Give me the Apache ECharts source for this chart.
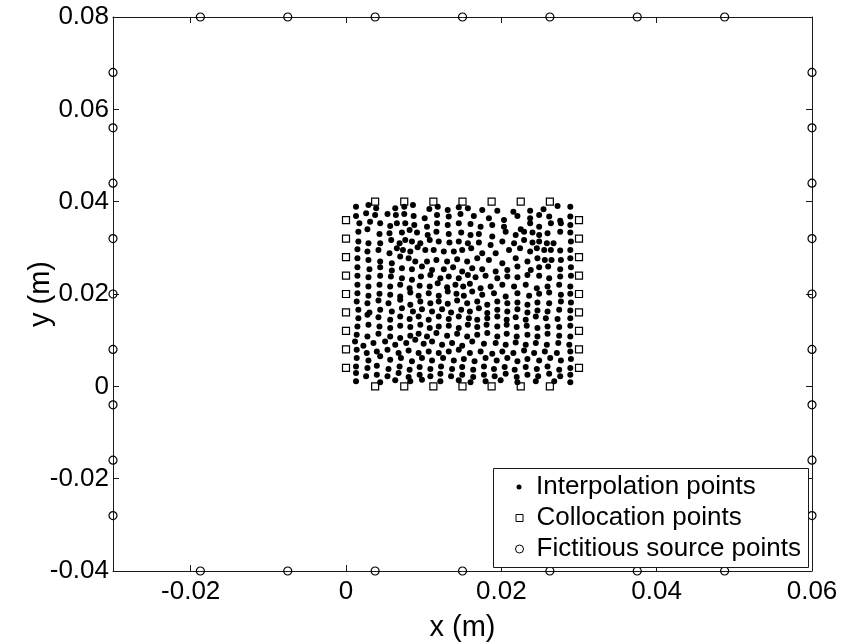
<!DOCTYPE html>
<html>
<head>
<meta charset="utf-8">
<style>
html,body{margin:0;padding:0;background:#fff;}
#chart{width:842px;height:643px;}
</style>
<script src="https://cdn.jsdelivr.net/npm/echarts@6/dist/echarts.min.js"></script>
</head>
<body>
<div id="chart"></div>
<script>
// ---- data (metres) ----
var xTicks = [-0.02, 0, 0.02, 0.04, 0.06];
var yTicks = [-0.04, -0.02, 0, 0.02, 0.04, 0.06, 0.08];

var sourceRowX = [-0.01875, -0.0075, 0.00375, 0.015, 0.02625, 0.0375, 0.04875];
var sourceColY = [-0.028, -0.016, -0.004, 0.008, 0.02, 0.032, 0.044, 0.056, 0.068];
var sourceBottomY = -0.04, sourceTopY = 0.08, sourceLeftX = -0.03, sourceRightX = 0.06;

var collocRowX = [0.00375, 0.0075, 0.01125, 0.015, 0.01875, 0.0225, 0.02625];
var collocColY = [0.004, 0.008, 0.012, 0.016, 0.02, 0.024, 0.028, 0.032, 0.036];
var collocBottomY = 0, collocTopY = 0.04, collocLeftX = 0, collocRightX = 0.03;

var interpPoints = [
[0.00129,0.03892],[0.00289,0.03928],[0.00388,0.03856],[0.00634,0.03856],[0.00750,0.03892],[0.00862,0.03928],[0.01073,0.03841],[0.01181,0.03892],[0.01310,0.03820],[0.01452,0.03877],[0.01569,0.03856],[0.01754,0.03820],[0.01948,0.03805],[0.02155,0.03784],[0.02371,0.03805],[0.02543,0.03834],[0.02724,0.03906],[0.02888,0.03892],
[0.00129,0.03690],[0.00259,0.03748],[0.00375,0.03712],[0.00534,0.03733],[0.00642,0.03712],[0.00750,0.03733],[0.00871,0.03690],[0.01013,0.03640],[0.01172,0.03712],[0.01323,0.03676],[0.01474,0.03733],[0.01646,0.03690],[0.01840,0.03640],[0.02034,0.03604],[0.02207,0.03690],[0.02371,0.03640],[0.02487,0.03712],[0.02616,0.03676],[0.02758,0.03589],[0.02888,0.03676],
[0.00172,0.03531],[0.00310,0.03567],[0.00440,0.03531],[0.00569,0.03474],[0.00655,0.03531],[0.00763,0.03531],[0.00879,0.03495],[0.01043,0.03459],[0.01172,0.03531],[0.01310,0.03495],[0.01452,0.03531],[0.01603,0.03517],[0.01733,0.03459],[0.01883,0.03495],[0.02034,0.03459],[0.02250,0.03402],[0.02371,0.03531],[0.02487,0.03459],[0.02638,0.03531],[0.02767,0.03531],[0.02888,0.03495],
[0.00159,0.03351],[0.00276,0.03402],[0.00431,0.03301],[0.00560,0.03316],[0.00720,0.03330],[0.00819,0.03387],[0.00914,0.03330],[0.01052,0.03279],[0.01164,0.03351],[0.01323,0.03301],[0.01483,0.03330],[0.01603,0.03279],[0.01711,0.03301],[0.01883,0.03243],[0.02056,0.03351],[0.02185,0.03279],[0.02293,0.03351],[0.02401,0.03330],[0.02487,0.03279],[0.02595,0.03316],[0.02758,0.03351],[0.02888,0.03330],
[0.00159,0.03135],[0.00289,0.03099],[0.00440,0.03099],[0.00582,0.03171],[0.00690,0.03099],[0.00763,0.03171],[0.00849,0.03135],[0.00957,0.03099],[0.01078,0.03171],[0.01194,0.03135],[0.01332,0.03113],[0.01452,0.03135],[0.01569,0.03099],[0.01711,0.03113],[0.01862,0.03063],[0.02013,0.03135],[0.02164,0.03099],[0.02293,0.03171],[0.02401,0.03113],[0.02487,0.03135],[0.02586,0.03099],[0.02672,0.03099],[0.02896,0.03135],
[0.00147,0.02969],[0.00276,0.02919],[0.00418,0.02955],[0.00560,0.02883],[0.00655,0.02991],[0.00733,0.02955],[0.00828,0.02919],[0.00922,0.03013],[0.01021,0.02955],[0.01129,0.02955],[0.01259,0.02919],[0.01388,0.02919],[0.01496,0.02955],[0.01612,0.02991],[0.01754,0.02883],[0.01927,0.02883],[0.02099,0.02955],[0.02241,0.02991],[0.02371,0.02919],[0.02457,0.02991],[0.02552,0.02955],[0.02638,0.02955],[0.02758,0.02940],[0.02888,0.02955],
[0.00147,0.02775],[0.00289,0.02739],[0.00440,0.02703],[0.00590,0.02667],[0.00698,0.02811],[0.00806,0.02775],[0.00892,0.02703],[0.01043,0.02703],[0.01164,0.02739],[0.01302,0.02703],[0.01431,0.02753],[0.01560,0.02703],[0.01690,0.02775],[0.01840,0.02739],[0.02013,0.02667],[0.02185,0.02775],[0.02336,0.02703],[0.02465,0.02775],[0.02560,0.02739],[0.02646,0.02739],[0.02767,0.02739],[0.02888,0.02775],
[0.00147,0.02580],[0.00302,0.02537],[0.00440,0.02580],[0.00590,0.02508],[0.00720,0.02559],[0.00849,0.02537],[0.00978,0.02595],[0.01108,0.02522],[0.01259,0.02537],[0.01379,0.02580],[0.01496,0.02486],[0.01625,0.02559],[0.01754,0.02537],[0.01927,0.02486],[0.02077,0.02522],[0.02207,0.02595],[0.02379,0.02522],[0.02487,0.02580],[0.02603,0.02595],[0.02758,0.02537],[0.02896,0.02580],
[0.00147,0.02393],[0.00289,0.02364],[0.00440,0.02393],[0.00578,0.02378],[0.00720,0.02342],[0.00849,0.02306],[0.00965,0.02378],[0.01086,0.02414],[0.01215,0.02342],[0.01323,0.02378],[0.01452,0.02342],[0.01569,0.02414],[0.01668,0.02364],[0.01797,0.02393],[0.01948,0.02342],[0.02077,0.02378],[0.02207,0.02364],[0.02336,0.02414],[0.02487,0.02393],[0.02616,0.02342],[0.02758,0.02378],[0.02896,0.02393],
[0.00147,0.02198],[0.00289,0.02162],[0.00431,0.02198],[0.00569,0.02162],[0.00698,0.02198],[0.00819,0.02126],[0.00948,0.02177],[0.01078,0.02162],[0.01181,0.02234],[0.01302,0.02148],[0.01409,0.02198],[0.01509,0.02162],[0.01595,0.02220],[0.01733,0.02126],[0.01862,0.02162],[0.02013,0.02198],[0.02164,0.02162],[0.02314,0.02198],[0.02457,0.02126],[0.02595,0.02162],[0.02745,0.02198],[0.02888,0.02162],
[0.00147,0.02018],[0.00289,0.01960],[0.00431,0.02004],[0.00569,0.01982],[0.00698,0.01946],[0.00828,0.02032],[0.00935,0.01960],[0.01065,0.02018],[0.01194,0.01960],[0.01310,0.02054],[0.01422,0.02004],[0.01517,0.01960],[0.01625,0.02054],[0.01754,0.01982],[0.01905,0.02018],[0.02056,0.01946],[0.02207,0.02018],[0.02358,0.01960],[0.02487,0.02004],[0.02616,0.02032],[0.02767,0.01982],[0.02888,0.02004],
[0.00138,0.01838],[0.00276,0.01802],[0.00418,0.01859],[0.00547,0.01802],[0.00698,0.01874],[0.00828,0.01766],[0.00957,0.01838],[0.01086,0.01802],[0.01194,0.01838],[0.01310,0.01787],[0.01431,0.01859],[0.01560,0.01802],[0.01690,0.01838],[0.01819,0.01766],[0.01948,0.01838],[0.02077,0.01802],[0.02207,0.01816],[0.02336,0.01766],[0.02465,0.01816],[0.02616,0.01802],[0.02767,0.01838],[0.02896,0.01816],
[0.00159,0.01658],[0.00302,0.01600],[0.00440,0.01658],[0.00590,0.01622],[0.00720,0.01694],[0.00862,0.01622],[0.00978,0.01672],[0.01108,0.01622],[0.01237,0.01672],[0.01353,0.01600],[0.01483,0.01658],[0.01595,0.01622],[0.01711,0.01694],[0.01819,0.01586],[0.01948,0.01658],[0.02077,0.01622],[0.02207,0.01672],[0.02336,0.01600],[0.02465,0.01643],[0.02595,0.01622],[0.02745,0.01658],[0.02888,0.01643],
[0.00159,0.01477],[0.00276,0.01550],[0.00418,0.01499],[0.00569,0.01441],[0.00698,0.01513],[0.00819,0.01456],[0.00935,0.01513],[0.01065,0.01441],[0.01194,0.01513],[0.01323,0.01456],[0.01452,0.01513],[0.01582,0.01477],[0.01690,0.01441],[0.01819,0.01477],[0.01948,0.01513],[0.02069,0.01441],[0.02185,0.01499],[0.02314,0.01441],[0.02444,0.01513],[0.02573,0.01477],[0.02724,0.01456],[0.02888,0.01477],
[0.00147,0.01297],[0.00289,0.01333],[0.00431,0.01297],[0.00569,0.01261],[0.00698,0.01312],[0.00828,0.01283],[0.00957,0.01333],[0.01078,0.01261],[0.01194,0.01297],[0.01323,0.01312],[0.01452,0.01261],[0.01569,0.01333],[0.01690,0.01283],[0.01810,0.01333],[0.01948,0.01297],[0.02069,0.01333],[0.02198,0.01283],[0.02327,0.01312],[0.02465,0.01261],[0.02595,0.01297],[0.02745,0.01283],[0.02888,0.01312],
[0.00138,0.01117],[0.00276,0.01081],[0.00418,0.01139],[0.00569,0.01081],[0.00698,0.01045],[0.00828,0.01095],[0.00935,0.01139],[0.01043,0.01081],[0.01164,0.01153],[0.01302,0.01095],[0.01431,0.01139],[0.01560,0.01081],[0.01690,0.01117],[0.01819,0.01153],[0.01948,0.01081],[0.02069,0.01139],[0.02198,0.01081],[0.02336,0.01117],[0.02465,0.01081],[0.02595,0.01139],[0.02745,0.01095],[0.02888,0.01081],
[0.00116,0.00973],[0.00224,0.00879],[0.00353,0.00937],[0.00504,0.00973],[0.00634,0.00901],[0.00776,0.00937],[0.00892,0.01009],[0.01000,0.00923],[0.01108,0.00973],[0.01237,0.00901],[0.01366,0.00937],[0.01496,0.00879],[0.01625,0.00973],[0.01776,0.00923],[0.01927,0.00937],[0.02056,0.00901],[0.02185,0.00951],[0.02314,0.00901],[0.02444,0.00937],[0.02586,0.00901],[0.02733,0.00937],[0.02875,0.00901],
[0.00138,0.00793],[0.00267,0.00721],[0.00397,0.00757],[0.00534,0.00793],[0.00677,0.00721],[0.00806,0.00778],[0.00935,0.00721],[0.01065,0.00757],[0.01194,0.00721],[0.01323,0.00757],[0.01452,0.00793],[0.01595,0.00721],[0.01733,0.00757],[0.01883,0.00706],[0.02013,0.00757],[0.02155,0.00721],[0.02293,0.00778],[0.02422,0.00721],[0.02560,0.00757],[0.02715,0.00721],[0.02888,0.00757],
[0.00138,0.00613],[0.00289,0.00562],[0.00440,0.00649],[0.00569,0.00577],[0.00707,0.00613],[0.00849,0.00541],[0.00978,0.00613],[0.01108,0.00562],[0.01250,0.00613],[0.01388,0.00562],[0.01517,0.00591],[0.01655,0.00541],[0.01797,0.00613],[0.01940,0.00562],[0.02077,0.00613],[0.02207,0.00541],[0.02336,0.00591],[0.02487,0.00562],[0.02629,0.00613],[0.02767,0.00562],[0.02896,0.00591],
[0.00129,0.00432],[0.00276,0.00396],[0.00397,0.00447],[0.00547,0.00375],[0.00690,0.00432],[0.00819,0.00360],[0.00948,0.00418],[0.01086,0.00375],[0.01224,0.00432],[0.01366,0.00375],[0.01496,0.00418],[0.01638,0.00360],[0.01776,0.00432],[0.01905,0.00375],[0.02043,0.00418],[0.02172,0.00360],[0.02314,0.00418],[0.02457,0.00375],[0.02595,0.00432],[0.02745,0.00360],[0.02888,0.00396],
[0.00129,0.00288],[0.00259,0.00216],[0.00397,0.00252],[0.00534,0.00216],[0.00677,0.00288],[0.00806,0.00202],[0.00948,0.00252],[0.01086,0.00216],[0.01215,0.00274],[0.01353,0.00216],[0.01496,0.00252],[0.01638,0.00202],[0.01776,0.00252],[0.01914,0.00216],[0.02056,0.00274],[0.02198,0.00202],[0.02336,0.00252],[0.02474,0.00216],[0.02616,0.00274],[0.02758,0.00216],[0.02888,0.00252],
[0.00129,0.00108],[0.00440,0.00086],[0.00634,0.00130],[0.00828,0.00108],[0.00978,0.00144],[0.01215,0.00108],[0.01452,0.00130],[0.01603,0.00086],[0.01797,0.00108],[0.01991,0.00130],[0.02207,0.00086],[0.02444,0.00108],[0.02681,0.00108],[0.02888,0.00086]
];

// ---- assemble point lists ----
var sourcePoints = [];
sourceRowX.forEach(function(x){ sourcePoints.push([x, sourceTopY]); sourcePoints.push([x, sourceBottomY]); });
sourceColY.forEach(function(y){ sourcePoints.push([sourceLeftX, y]); sourcePoints.push([sourceRightX, y]); });
var collocPoints = [];
collocRowX.forEach(function(x){ collocPoints.push([x, collocTopY]); collocPoints.push([x, collocBottomY]); });
collocColY.forEach(function(y){ collocPoints.push([collocLeftX, y]); collocPoints.push([collocRightX, y]); });

var FONT = '"Liberation Sans", Arial, Helvetica, sans-serif';
var AX = '#1a1a1a';
function fmt(v){ return String(Math.round(v*1e6)/1e6); }

var chart = echarts.init(document.getElementById('chart'), null, {renderer:'canvas'});

var LEG_ICON_CX = 519, LEG_TEXT_X = 536;
function legendFor(name, size, rowCenter, itemStyle){
  var left = LEG_ICON_CX - size / 2;
  var pad = LEG_TEXT_X - (left + size + 5);
  return {
    data: [name], left: left, top: rowCenter - 15, orient: 'vertical',
    itemWidth: size, itemHeight: size, padding: 0, selectedMode: false, z: 101,
    textStyle: {fontFamily: FONT, fontSize: 26, color: '#000', lineHeight: 30, padding: [0, 0, 0, pad]},
    itemStyle: itemStyle
  };
}

chart.setOption({
  animation: false,
  backgroundColor: '#fff',
  grid: {left: 113, top: 17, right: 30, bottom: 72, containLabel: false, outerBoundsMode: 'none'},
  xAxis: [{
    type: 'value', position: 'bottom', min: -0.03, max: 0.06,
    name: 'x (m)', nameLocation: 'middle', nameGap: 42, nameMoveOverlap: false,
    nameTextStyle: {fontFamily: FONT, fontSize: 29, color: '#000'},
    axisLine: {show: true, onZero: false, lineStyle: {color: AX, width: 1}},
    axisTick: {show: true, inside: true, length: 6, customValues: xTicks, lineStyle: {color: AX}},
    axisLabel: {show: true, customValues: xTicks, margin: 8, formatter: fmt, fontFamily: FONT, fontSize: 26, color: '#000'},
    splitLine: {show: false}
  },{
    type: 'value', position: 'top', min: -0.03, max: 0.06,
    axisLine: {show: true, onZero: false, lineStyle: {color: AX, width: 1}},
    axisTick: {show: true, inside: true, length: 6, customValues: xTicks, lineStyle: {color: AX}},
    axisLabel: {show: false},
    splitLine: {show: false}
  }],
  yAxis: [{
    type: 'value', position: 'left', min: -0.04, max: 0.08,
    name: 'y (m)', nameLocation: 'middle', nameGap: 58, nameMoveOverlap: false,
    nameTextStyle: {fontFamily: FONT, fontSize: 29, color: '#000'},
    axisLine: {show: true, onZero: false, lineStyle: {color: AX, width: 1}},
    axisTick: {show: true, inside: true, length: 6, customValues: yTicks, lineStyle: {color: AX}},
    axisLabel: {show: true, customValues: yTicks, margin: 4, formatter: fmt, fontFamily: FONT, fontSize: 26, color: '#000'},
    splitLine: {show: false}
  },{
    type: 'value', position: 'right', min: -0.04, max: 0.08,
    axisLine: {show: true, onZero: false, lineStyle: {color: AX, width: 1}},
    axisTick: {show: true, inside: true, length: 6, customValues: yTicks, lineStyle: {color: AX}},
    axisLabel: {show: false},
    splitLine: {show: false}
  }],
  legend: [
    legendFor('Interpolation points', 5, 487, {color: '#000', borderWidth: 0}),
    legendFor('Collocation points', 7, 518, {color: 'rgba(0,0,0,0)', borderColor: '#000', borderWidth: 1}),
    legendFor('Fictitious source points', 8, 549, {color: 'rgba(0,0,0,0)', borderColor: '#000', borderWidth: 1})
  ],
  graphic: [{
    type: 'rect', z: 100, silent: true,
    shape: {x: 493.5, y: 468.5, width: 315, height: 99},
    style: {fill: '#fff', stroke: AX, lineWidth: 1}
  }],
  series: [{
    name: 'Fictitious source points', type: 'scatter', data: sourcePoints,
    symbol: 'circle', symbolSize: 8, symbolKeepAspect: true, silent: true, z: 3,
    itemStyle: {color: 'rgba(0,0,0,0)', borderColor: '#000', borderWidth: 1.2, opacity: 1}
  },{
    name: 'Collocation points', type: 'scatter', data: collocPoints,
    symbol: 'rect', symbolSize: 7, symbolKeepAspect: true, silent: true, z: 4,
    itemStyle: {color: 'rgba(0,0,0,0)', borderColor: '#000', borderWidth: 1.2, opacity: 1}
  },{
    name: 'Interpolation points', type: 'scatter', data: interpPoints,
    symbol: 'circle', symbolSize: 6, symbolKeepAspect: true, silent: true, z: 5,
    itemStyle: {color: '#000', opacity: 1}
  }]
});
</script>
</body>
</html>
